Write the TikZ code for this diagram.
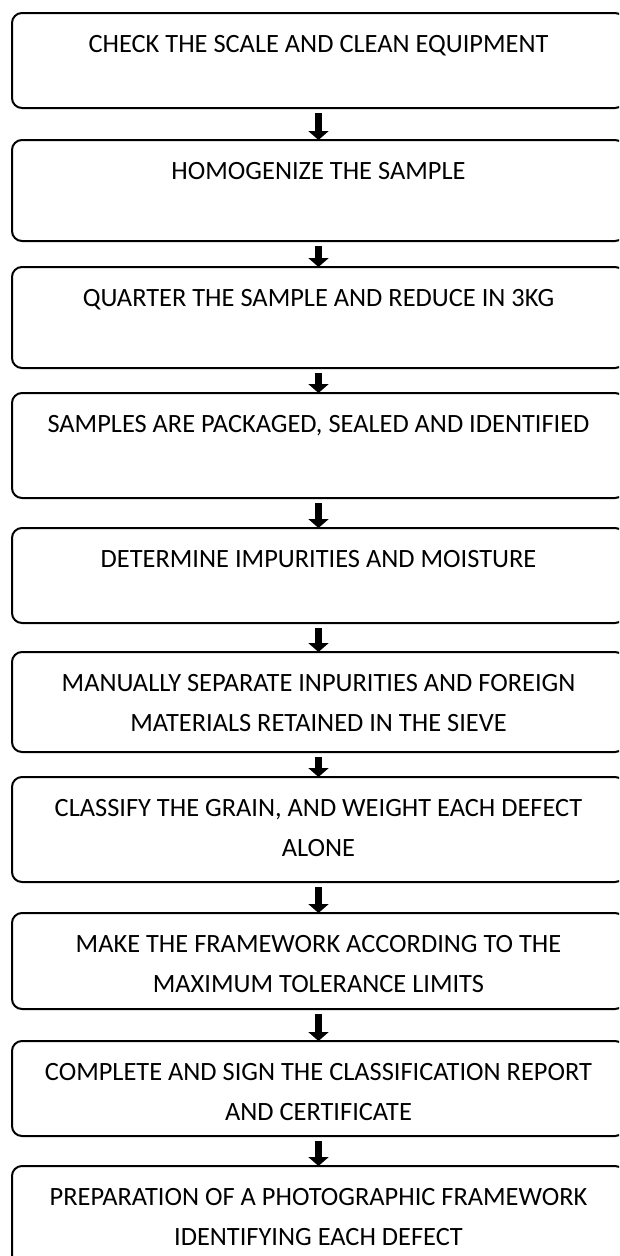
\documentclass[tikz,border=0pt]{standalone}
\usepackage{fontspec}
\setmainfont{Carlito}
\usepackage{tikz}
\usetikzlibrary{arrows.meta}

\tikzset{
    stepbox/.style={draw=black, line width=2pt, rounded corners=10pt, minimum width=613pt, inner sep=0pt, outer sep=0pt},
    steptext/.style={anchor=base, align=center, inner sep=0pt, font=\fontsize{26.4}{39.5}\selectfont},
    flowarrow/.style={draw=black, line width=7pt, -{Triangle[width=20pt,length=9pt]}}
}

\begin{document}
\begin{tikzpicture}[x=1pt, y=-1pt]
            \useasboundingbox (0.00,0.00) rectangle (619.00,1256.00);
            \clip (0.00,0.00) rectangle (619.00,1256.00);
            % boxes
            \node[stepbox, minimum height=95pt] (check) at (318.50,60.50) {};
            \node[stepbox, minimum height=101pt] (homog) at (318.50,190.50) {};
            \node[stepbox, minimum height=101pt] (quarter) at (318.50,317.50) {};
            \node[stepbox, minimum height=105pt] (pack) at (318.50,445.50) {};
            \node[stepbox, minimum height=95pt] (moist) at (318.50,575.50) {};
            \node[stepbox, minimum height=100pt] (separ) at (318.50,702.00) {};
            \node[stepbox, minimum height=105pt] (classif) at (318.50,829.50) {};
            \node[stepbox, minimum height=96pt] (frame) at (318.50,961.00) {};
            \node[stepbox, minimum height=95pt] (report) at (318.50,1088.50) {};
            \node[stepbox, minimum height=104pt] (photo) at (318.50,1218.00) {};
            % texts (base is the last line)
            \node[steptext] (checkt) at ([yshift=-39.5pt]check.north) {CHECK THE SCALE AND CLEAN EQUIPMENT};
            \node[steptext] (homogt) at ([yshift=-39.5pt]homog.north) {HOMOGENIZE THE SAMPLE};
            \node[steptext] (quartert) at ([yshift=-39.5pt]quarter.north) {QUARTER THE SAMPLE AND REDUCE IN 3KG};
            \node[steptext] (packt) at ([yshift=-39.5pt]pack.north) {SAMPLES ARE PACKAGED, SEALED AND IDENTIFIED};
            \node[steptext] (moistt) at ([yshift=-39.5pt]moist.north) {DETERMINE IMPURITIES AND MOISTURE};
            \node[steptext] (separt) at ([yshift=-79pt]separ.north) {MANUALLY SEPARATE INPURITIES AND FOREIGN\\MATERIALS RETAINED IN THE SIEVE};
            \node[steptext] (classift) at ([yshift=-79pt]classif.north) {CLASSIFY THE GRAIN, AND WEIGHT EACH DEFECT\\ALONE};
            \node[steptext] (framet) at ([yshift=-79pt]frame.north) {MAKE THE FRAMEWORK ACCORDING TO THE\\MAXIMUM TOLERANCE LIMITS};
            \node[steptext] (reportt) at ([yshift=-79pt]report.north) {COMPLETE AND SIGN THE CLASSIFICATION REPORT\\AND CERTIFICATE};
            \node[steptext] (photot) at ([yshift=-79pt]photo.north) {PREPARATION OF A PHOTOGRAPHIC FRAMEWORK\\IDENTIFYING EACH DEFECT};
            % arrows
            \draw[flowarrow] ([yshift=-5pt]check.south) -- (homog.north);
            \draw[flowarrow] ([yshift=-5pt]homog.south) -- (quarter.north);
            \draw[flowarrow] ([yshift=-5pt]quarter.south) -- (pack.north);
            \draw[flowarrow] ([yshift=-5pt]pack.south) -- (moist.north);
            \draw[flowarrow] ([yshift=-5pt]moist.south) -- (separ.north);
            \draw[flowarrow] ([yshift=-5pt]separ.south) -- (classif.north);
            \draw[flowarrow] ([yshift=-5pt]classif.south) -- (frame.north);
            \draw[flowarrow] ([yshift=-5pt]frame.south) -- (report.north);
            \draw[flowarrow] ([yshift=-5pt]report.south) -- (photo.north);
        \end{tikzpicture}
\end{document}
